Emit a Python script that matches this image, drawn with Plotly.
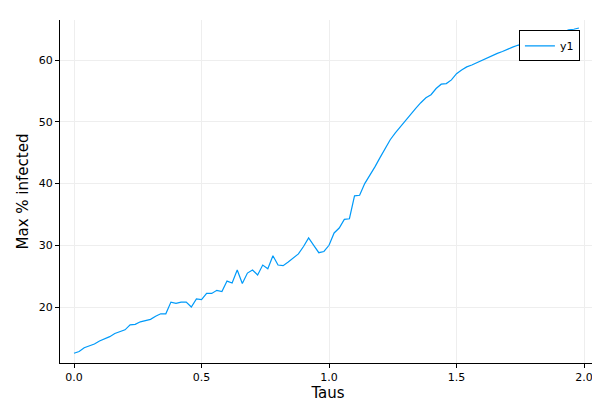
import numpy as np
import plotly.graph_objects as go

taus = np.round(np.arange(0, 2.0, 0.02), 2)
max_infected = [
    12.5, 12.8, 13.4, 13.7, 14.0, 14.5, 14.8, 15.2, 15.7, 16.0,
    16.3, 17.1, 17.2, 17.6, 17.8, 18.0, 18.5, 18.9, 18.9, 20.8,
    20.6, 20.8, 20.8, 20.0, 21.3, 21.2, 22.2, 22.2, 22.7, 22.5,
    24.2, 23.9, 26.0, 23.8, 25.5, 26.0, 25.2, 26.8, 26.2, 28.3,
    26.8, 26.7, 27.3, 28.0, 28.6, 29.8, 31.2, 30.0, 28.8, 29.0,
    30.0, 32.0, 32.8, 34.2, 34.3, 38.0, 38.1, 40.0, 41.3, 42.7,
    44.2, 45.7, 47.1, 48.2, 49.2, 50.3, 51.3, 52.2, 53.1, 53.9,
    54.4, 55.4, 56.1, 56.2, 56.8, 57.8, 58.4, 58.9, 59.2, 59.6,
    60.0, 60.4, 60.7, 61.1, 61.4, 61.8, 62.1, 62.4, 62.7, 63.0,
    63.2, 63.4, 63.6, 63.8, 64.0, 64.3, 64.6, 64.9, 65.0, 65.2,
]

fig = go.Figure(go.Scatter(x=taus, y=max_infected, mode="lines", name="y1",
                           line=dict(color="#009af9", width=1.2)))

axis = dict(showline=True, linecolor="black", linewidth=1, ticks="outside",
            ticklen=4, tickcolor="black", showgrid=True, gridcolor="#eeeeee",
            zeroline=False, mirror=False, automargin=False,
            tickfont=dict(size=11, color="black"))

fig.update_layout(
    width=600, height=400, template="none",
    paper_bgcolor="white", plot_bgcolor="white",
    font=dict(family="DejaVu Sans", color="black"),
    margin=dict(l=52, r=12, t=12, b=45, pad=0),
    showlegend=True,
    legend=dict(x=0.97, y=0.97, xanchor="right", yanchor="top",
                bordercolor="black", borderwidth=1, bgcolor="white",
                font=dict(size=11)),
    xaxis=dict(axis, range=[-0.055, 2.047], tickvals=[0, 0.5, 1, 1.5, 2],
               ticktext=["0.0", "0.5", "1.0", "1.5", "2.0"],
               title=dict(text="Taus", font=dict(size=15), standoff=4)),
    yaxis=dict(axis, range=[10.93, 66.5], tickvals=[20, 30, 40, 50, 60],
               title=dict(text="Max % infected", font=dict(size=15), standoff=6)),
)

fig.write_html("out.html")
